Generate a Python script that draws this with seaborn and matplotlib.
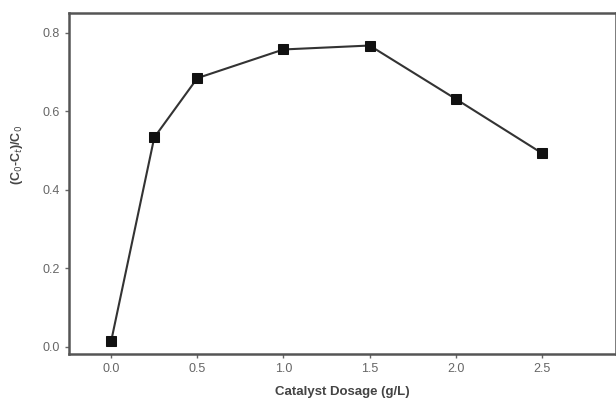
import matplotlib
matplotlib.use("Agg")
import matplotlib.pyplot as plt
import seaborn as sns
import pandas as pd

dosage = [0.0, 0.25, 0.5, 1.0, 1.5, 2.0, 2.5]
efficiency = [0.015, 0.533, 0.684, 0.757, 0.767, 0.631, 0.493]
xticks = [0.0, 0.5, 1.0, 1.5, 2.0, 2.5]
yticks = [0.0, 0.2, 0.4, 0.6, 0.8]

sns.set_style("white")
plt.rcParams['font.family'] = ['Liberation Sans', 'DejaVu Sans']

df = pd.DataFrame({"x": dosage, "y": efficiency})
fig = plt.figure(figsize=(6.16, 4.01), dpi=100)
ax = fig.add_axes([0.112, 0.1164, 0.888, 0.8504])
sns.lineplot(data=df, x="x", y="y", ax=ax, color="#333333", linewidth=1.5,
             marker="s", markersize=7, markerfacecolor="#111111",
             markeredgecolor="#111111")
ax.set_xlim(-0.245, 2.93)
ax.set_ylim(-0.019, 0.849)
ax.set_xticks(xticks)
ax.set_xticklabels([f"{v:.1f}" for v in xticks])
ax.set_yticks(yticks)
ax.set_yticklabels([f"{v:.1f}" for v in yticks])
for s in ax.spines.values():
    s.set_color("#555555")
    s.set_linewidth(1.8)
ax.tick_params(axis="both", direction="out", length=3, width=1, color="#666666",
               labelcolor="#666666", labelsize=9, left=True, bottom=True)
ax.set_xlabel("Catalyst Dosage (g/L)", fontsize=9.5, fontweight="bold", color="#444444", labelpad=8)
ax.set_ylabel("(C$_0$-C$_t$)/C$_0$", fontsize=9, fontweight="bold", color="#444444")
ax.yaxis.set_label_coords(-0.08, 0.584)
fig.savefig("out.png", dpi=100)
